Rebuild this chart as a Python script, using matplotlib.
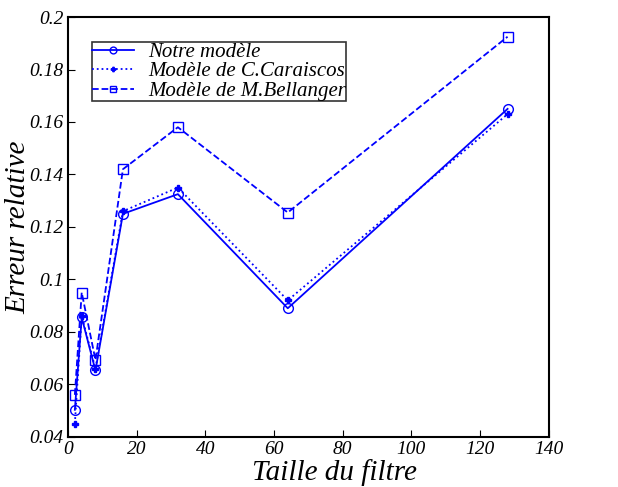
import matplotlib
matplotlib.use('Agg')
import matplotlib.pyplot as plt

taille = [2, 4, 8, 16, 32, 64, 128]
notre = [0.0503, 0.0855, 0.0653, 0.125, 0.1325, 0.089, 0.165]
caraiscos = [0.045, 0.086, 0.066, 0.126, 0.135, 0.092, 0.163]
bellanger = [0.056, 0.095, 0.0693, 0.142, 0.158, 0.1255, 0.1925]

plt.rcParams['font.family'] = ['Liberation Serif', 'DejaVu Serif']
plt.rcParams['font.style'] = 'italic'

fig = plt.figure(figsize=(6.18, 4.87), dpi=100)
ax = fig.add_axes([0.110, 0.103, 0.778, 0.862])

blue = '#0000ff'
ax.plot(taille, notre, '-', color=blue, marker='o', ms=7, mfc='none', lw=1.3,
        label='Notre modèle')
ax.plot(taille, caraiscos, ':', color=blue, marker='P', ms=4.5, lw=1.3,
        label='Modèle de C.Caraiscos')
ax.plot(taille, bellanger, '--', color=blue, marker='s', ms=7, mfc='none', lw=1.3,
        label='Modèle de M.Bellanger')

ax.set_xlim(0, 140)
ax.set_ylim(0.04, 0.2)
ax.set_xticks(range(0, 141, 20))
ax.set_yticks([0.04, 0.06, 0.08, 0.1, 0.12, 0.14, 0.16, 0.18, 0.2])
ax.set_yticklabels(['0.04', '0.06', '0.08', '0.1', '0.12', '0.14', '0.16', '0.18', '0.2'])
ax.tick_params(direction='in', labelsize=14, length=5, pad=3)
for s in ax.spines.values():
    s.set_linewidth(1.5)

ax.set_xlabel('Taille du filtre', fontsize=21)
ax.set_ylabel('Erreur relative', fontsize=21)
ax.xaxis.set_label_coords(0.555, -0.052)
ax.yaxis.set_label_coords(-0.077, 0.5)

leg = ax.legend(loc='upper left', bbox_to_anchor=(0.05, 0.94), fontsize=15,
                frameon=True, fancybox=False, edgecolor='black',
                borderpad=0.0, labelspacing=0.0, handlelength=2.0,
                handletextpad=0.7, borderaxespad=0, markerscale=0.7)
leg.get_frame().set_linewidth(1.2)

fig.savefig('out.png', dpi=100)
